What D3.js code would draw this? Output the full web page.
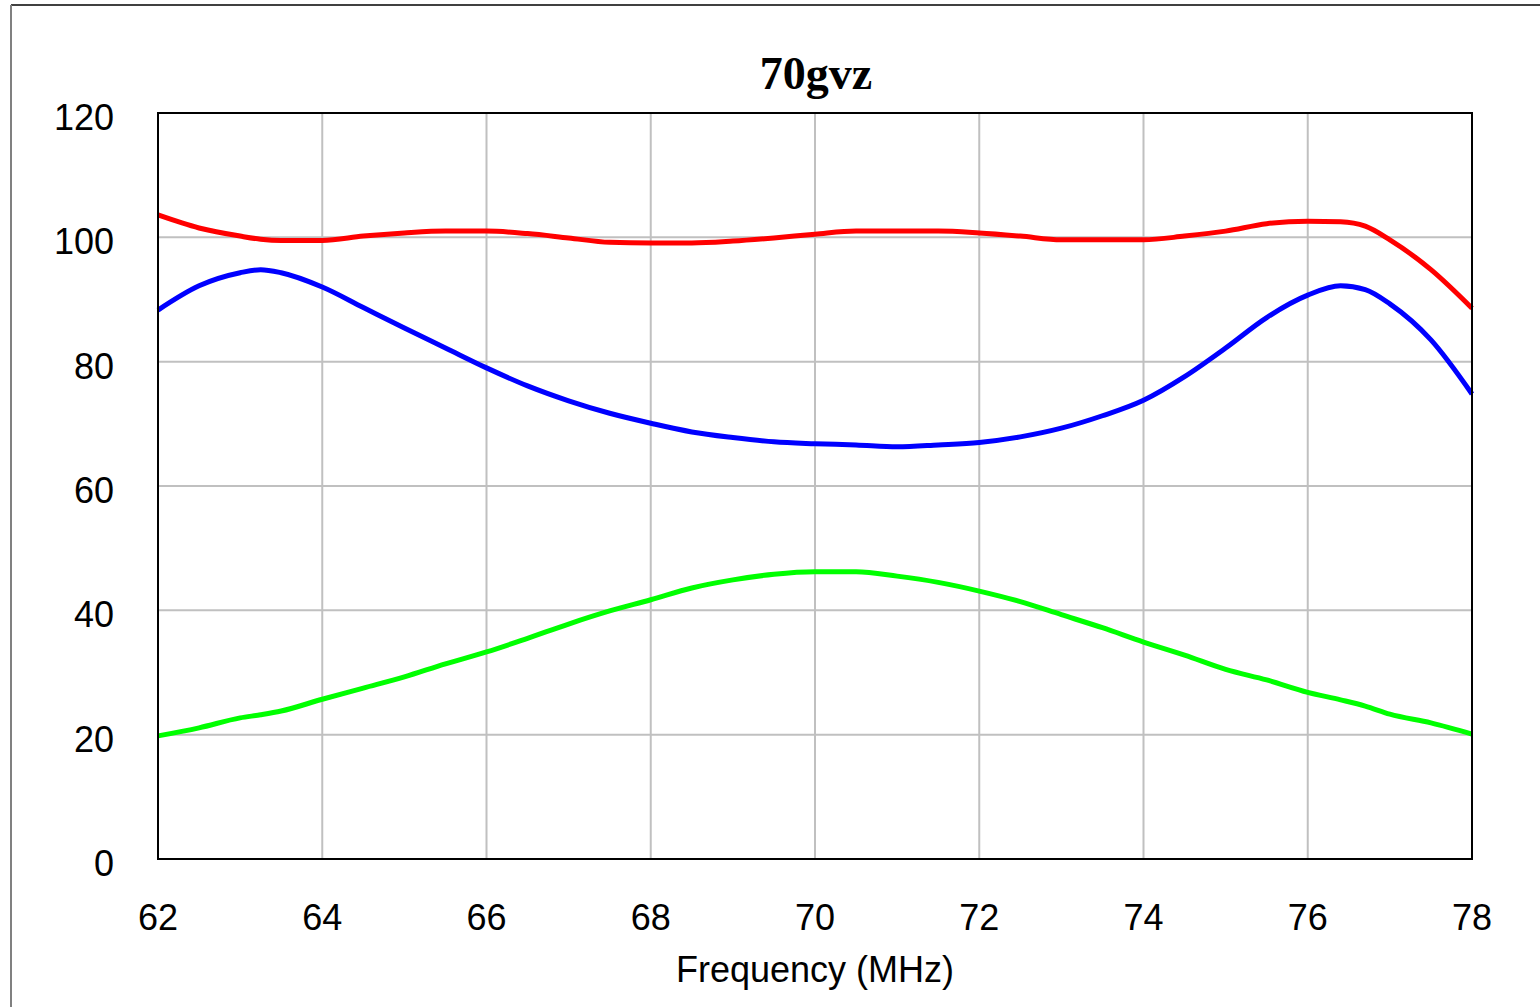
<!DOCTYPE html>
<html>
<head>
<meta charset="utf-8">
<script src="https://d3js.org/d3.v7.min.js"></script>
<style>
	body { margin: 0; background: #fff; }
	svg { display: block; }
</style>
</head>
<body>
<svg id="chart" width="1540" height="1007"></svg>
<script>
var freqs = [62, 62.5, 63, 63.25, 63.5, 64, 64.5, 65, 65.5, 66, 66.5, 67, 67.5, 68, 68.5, 69, 69.5,
	70, 70.5, 71, 71.5, 72, 72.5, 73, 73.5, 74, 74.5, 75, 75.5, 76, 76.4, 76.7, 77, 77.5, 78];

var redValues = [103.6, 101.5, 100.2, 99.7, 99.5, 99.5, 100.2, 100.7, 101, 101, 100.6, 99.9, 99.2, 99.1, 99.1, 99.4, 99.9,
	100.5, 101, 101, 101, 100.7, 100.2, 99.6, 99.6, 99.6, 100.2, 101, 102.2, 102.6, 102.5, 101.8, 99.6, 94.8, 88.6];

var blueValues = [88.3, 92.2, 94.3, 94.8, 94.3, 92, 88.7, 85.4, 82.2, 79, 76.1, 73.7, 71.7, 70.1, 68.7, 67.8, 67.1,
	66.8, 66.6, 66.3, 66.6, 67, 67.9, 69.3, 71.3, 73.8, 77.6, 82.2, 87.1, 90.7, 92.2, 91.6, 89.3, 83.5, 74.8];

var greenValues = [19.8, 21.1, 22.7, 23.2, 23.8, 25.7, 27.5, 29.3, 31.4, 33.3, 35.5, 37.8, 39.9, 41.7, 43.6, 44.9, 45.8,
	46.2, 46.2, 45.5, 44.5, 43.1, 41.4, 39.3, 37.2, 34.9, 32.8, 30.5, 28.8, 26.8, 25.6, 24.6, 23.3, 21.9, 20.1];

var xTicks = [62, 64, 66, 68, 70, 72, 74, 76, 78];
var yTicks = [0, 20, 40, 60, 80, 100, 120];

var seriesColors = ['#ff0000', '#0000ff', '#00ff00'];
var chartTitle = '70gvz';
var xTitle = 'Frequency (MHz)';

var svg = d3.select('#chart');

// outer chart border (only left and top are in frame)
svg.append('line')
	.attr('x1', 11).attr('x2', 1540)
	.attr('y1', 5).attr('y2', 5)
	.attr('stroke', '#404040')
	.attr('stroke-width', 2);

svg.append('line')
	.attr('x1', 11).attr('x2', 11)
	.attr('y1', 5).attr('y2', 1007)
	.attr('stroke', '#808080')
	.attr('stroke-width', 2);

var plot = { left: 158, top: 113, right: 1472, bottom: 859 };

var x = d3.scaleLinear()
	.domain([62, 78])
	.range([plot.left, plot.right]);

var y = d3.scaleLinear()
	.domain([0, 120])
	.range([plot.bottom, plot.top]);

// grid
svg.append('g')
	.selectAll('line')
	.data(xTicks.slice(1, -1))
	.enter()
	.append('line')
		.attr('x1', d => x(d))
		.attr('x2', d => x(d))
		.attr('y1', plot.top)
		.attr('y2', plot.bottom)
		.attr('stroke', '#c0c0c0')
		.attr('stroke-width', 2);

svg.append('g')
	.selectAll('line')
	.data(yTicks.slice(1, -1))
	.enter()
	.append('line')
		.attr('x1', plot.left)
		.attr('x2', plot.right)
		.attr('y1', d => y(d))
		.attr('y2', d => y(d))
		.attr('stroke', '#c0c0c0')
		.attr('stroke-width', 2);

// series
var series = [redValues, blueValues, greenValues];

var line = d3.line()
	.x((d, i) => x(freqs[i]))
	.y(d => y(d))
	.curve(d3.curveMonotoneX);

svg.append('g')
	.selectAll('path')
	.data(series)
	.enter()
	.append('path')
		.attr('d', line)
		.attr('fill', 'none')
		.attr('stroke', (d, i) => seriesColors[i])
		.attr('stroke-width', 5)
		.attr('stroke-linejoin', 'round');

// plot frame
svg.append('rect')
	.attr('x', plot.left)
	.attr('y', plot.top)
	.attr('width', plot.right - plot.left)
	.attr('height', plot.bottom - plot.top)
	.attr('fill', 'none')
	.attr('stroke', '#000')
	.attr('stroke-width', 2);

// axis labels
svg.append('g')
	.selectAll('text')
	.data(yTicks)
	.enter()
	.append('text')
		.attr('x', 114)
		.attr('y', d => y(d) + 17)
		.attr('text-anchor', 'end')
		.attr('font-family', 'Liberation Sans, Arial, sans-serif')
		.attr('font-size', 36)
		.text(d => d);

svg.append('g')
	.selectAll('text')
	.data(xTicks)
	.enter()
	.append('text')
		.attr('x', d => x(d))
		.attr('y', 930)
		.attr('text-anchor', 'middle')
		.attr('font-family', 'Liberation Sans, Arial, sans-serif')
		.attr('font-size', 36)
		.text(d => d);

svg.append('text')
	.attr('x', 815)
	.attr('y', 982)
	.attr('text-anchor', 'middle')
	.attr('font-family', 'Liberation Sans, Arial, sans-serif')
	.attr('font-size', 36)
	.text(xTitle);

svg.append('text')
	.attr('x', 816)
	.attr('y', 89)
	.attr('text-anchor', 'middle')
	.attr('font-family', 'Liberation Serif, Times New Roman, serif')
	.attr('font-weight', 'bold')
	.attr('font-size', 46)
	.text(chartTitle);
</script>
</body>
</html>
